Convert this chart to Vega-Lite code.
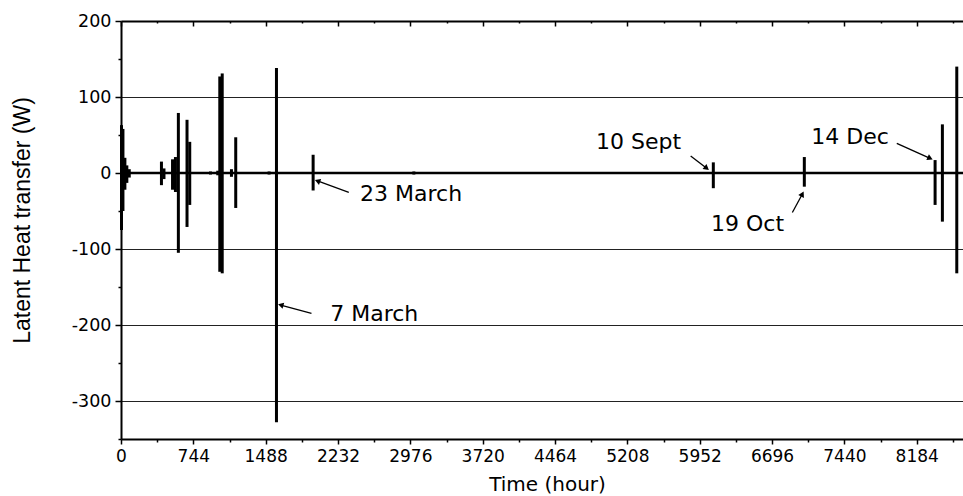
{
  "$schema": "https://vega.github.io/schema/vega-lite/v6.json",
  "width": 842,
  "height": 418,
  "autosize": "none",
  "padding": {"left": 121, "top": 21, "right": 0, "bottom": 57},
  "background": "white",
  "config": {
    "view": {"stroke": null},
    "axis": {"labelFont": "DejaVu Sans", "labelColor": "black", "titleColor": "black", "domainColor": "black", "tickColor": "black", "titleFontWeight": "normal"}
  },
  "datasets": {
    "spikes": [
      {"t": 5, "lo": -75, "hi": 63},
      {"t": 20, "lo": -50, "hi": 58},
      {"t": 40, "lo": -22, "hi": 20},
      {"t": 60, "lo": -13, "hi": 10},
      {"t": 85, "lo": -6, "hi": 5},
      {"t": 416, "lo": -16, "hi": 15},
      {"t": 442, "lo": -8, "hi": 6},
      {"t": 530, "lo": -22, "hi": 18},
      {"t": 560, "lo": -25, "hi": 21},
      {"t": 590, "lo": -105, "hi": 79},
      {"t": 679, "lo": -71, "hi": 70},
      {"t": 707, "lo": -42, "hi": 41},
      {"t": 920, "lo": -2, "hi": 2},
      {"t": 995, "lo": -3, "hi": 3},
      {"t": 1016, "lo": -130, "hi": 127},
      {"t": 1041, "lo": -132, "hi": 131},
      {"t": 1136, "lo": -5, "hi": 5},
      {"t": 1180, "lo": -46, "hi": 47},
      {"t": 1523, "lo": -2, "hi": 2},
      {"t": 1599, "lo": -328, "hi": 138},
      {"t": 1976, "lo": -23, "hi": 24},
      {"t": 3012, "lo": -2, "hi": 2},
      {"t": 6092, "lo": -20, "hi": 14},
      {"t": 7028, "lo": -18, "hi": 21},
      {"t": 8150, "lo": -1, "hi": 1},
      {"t": 8373, "lo": -42, "hi": 17},
      {"t": 8448, "lo": -64, "hi": 64},
      {"t": 8596, "lo": -132, "hi": 140}
    ],
    "notes": [
      {"label": "7 March", "t": 2605, "v": -185},
      {"label": "23 March", "t": 2984, "v": -28},
      {"label": "10 Sept", "t": 5323, "v": 41},
      {"label": "19 Oct", "t": 6444, "v": -67},
      {"label": "14 Dec", "t": 7498, "v": 48}
    ],
    "arrows": [
      {"label": "7 March", "t": 1959, "v": -184.6, "t2": 1643, "v2": -173.7},
      {"label": "23 March", "t": 2343, "v": -25.4, "t2": 2021, "v2": -10.5},
      {"label": "10 Sept", "t": 5859, "v": 22.4, "t2": 6024, "v2": 6.2},
      {"label": "19 Oct", "t": 6905, "v": -52, "t2": 7008, "v2": -27.6},
      {"label": "14 Dec", "t": 7979, "v": 39, "t2": 8322, "v2": 19.3}
    ]
  },
  "resolve": {"axis": {"x": "independent", "y": "independent"}},
  "layer": [
    {
      "data": {"values": [{"v": 0}]},
      "mark": {"type": "rule", "color": "black", "strokeWidth": 2.5},
      "encoding": {
        "y": {
          "field": "v", "type": "quantitative",
          "scale": {"domain": [-350, 200], "nice": false},
          "axis": {
            "orient": "left",
            "values": [-350, -300, -250, -200, -150, -100, -50, 0, 50, 100, 150, 200],
            "labelExpr": "datum.value % 100 === 0 ? '' + datum.value : ''",
            "tickSize": {"condition": {"test": "datum.value % 100 === 0", "value": 6}, "value": 3},
            "tickWidth": 1.5,
            "domainWidth": 2,
            "labelFontSize": 17.5,
            "labelPadding": 4,
            "labelFlush": false,
            "labelOverlap": false,
            "grid": true,
            "gridWidth": 1,
            "gridColor": "#222222",
            "gridOpacity": {"condition": {"test": "datum.value % 100 === 0 && datum.value < 200", "value": 1}, "value": 0},
            "title": "Latent Heat transfer (W)",
            "titleFont": "Liberation Sans",
            "titleFontSize": 23,
            "titleAngle": -90,
            "titleX": -99,
            "titleY": 199,
            "titleAlign": "center",
            "titleBaseline": "middle"
          }
        }
      }
    },
    {
      "data": {"name": "spikes"},
      "mark": {"type": "rule", "color": "black", "strokeWidth": 3},
      "encoding": {
        "x": {
          "field": "t", "type": "quantitative",
          "scale": {"domain": [0, 8660], "nice": false, "zero": false},
          "axis": {
            "orient": "bottom",
            "values": [0, 372, 744, 1116, 1488, 1860, 2232, 2604, 2976, 3348, 3720, 4092, 4464, 4836, 5208, 5580, 5952, 6324, 6696, 7068, 7440, 7812, 8184, 8556],
            "format": "d",
            "labelExpr": "datum.value % 744 === 0 ? datum.label : ''",
            "tickSize": {"condition": {"test": "datum.value % 744 === 0", "value": 5}, "value": 3},
            "tickWidth": 1.5,
            "domainWidth": 2,
            "labelFontSize": 17,
            "labelPadding": 4,
            "labelFlush": false,
            "labelOverlap": false,
            "grid": false,
            "title": "Time (hour)",
            "titleFont": "DejaVu Sans",
            "titleFontSize": 20,
            "titleX": 426,
            "titleY": 45,
            "titleAlign": "center",
            "titleBaseline": "middle"
          }
        },
        "y": {"field": "lo", "type": "quantitative", "axis": null},
        "y2": {"field": "hi"}
      }
    },
    {
      "data": {"name": "arrows"},
      "mark": {"type": "rule", "color": "black", "strokeWidth": 1.3},
      "encoding": {
        "x": {"field": "t", "type": "quantitative", "axis": null},
        "y": {"field": "v", "type": "quantitative", "axis": null},
        "x2": {"field": "t2"},
        "y2": {"field": "v2"}
      }
    },
    {
      "data": {"name": "arrows"},
      "transform": [{"filter": "datum.label === '7 March'"}],
      "mark": {"type": "point", "shape": "triangle-up", "filled": true, "color": "black", "opacity": 1, "size": 40, "angle": 285},
      "encoding": {"x": {"field": "t2", "type": "quantitative", "axis": null}, "y": {"field": "v2", "type": "quantitative", "axis": null}}
    },
    {
      "data": {"name": "arrows"},
      "transform": [{"filter": "datum.label === '23 March'"}],
      "mark": {"type": "point", "shape": "triangle-up", "filled": true, "color": "black", "opacity": 1, "size": 40, "angle": 290},
      "encoding": {"x": {"field": "t2", "type": "quantitative", "axis": null}, "y": {"field": "v2", "type": "quantitative", "axis": null}}
    },
    {
      "data": {"name": "arrows"},
      "transform": [{"filter": "datum.label === '10 Sept'"}],
      "mark": {"type": "point", "shape": "triangle-up", "filled": true, "color": "black", "opacity": 1, "size": 40, "angle": 128},
      "encoding": {"x": {"field": "t2", "type": "quantitative", "axis": null}, "y": {"field": "v2", "type": "quantitative", "axis": null}}
    },
    {
      "data": {"name": "arrows"},
      "transform": [{"filter": "datum.label === '19 Oct'"}],
      "mark": {"type": "point", "shape": "triangle-up", "filled": true, "color": "black", "opacity": 1, "size": 40, "angle": 28},
      "encoding": {"x": {"field": "t2", "type": "quantitative", "axis": null}, "y": {"field": "v2", "type": "quantitative", "axis": null}}
    },
    {
      "data": {"name": "arrows"},
      "transform": [{"filter": "datum.label === '14 Dec'"}],
      "mark": {"type": "point", "shape": "triangle-up", "filled": true, "color": "black", "opacity": 1, "size": 40, "angle": 114},
      "encoding": {"x": {"field": "t2", "type": "quantitative", "axis": null}, "y": {"field": "v2", "type": "quantitative", "axis": null}}
    },
    {
      "data": {"name": "notes"},
      "mark": {"type": "text", "font": "DejaVu Sans", "fontSize": 22, "align": "center", "baseline": "middle", "color": "black"},
      "encoding": {
        "x": {
          "field": "t", "type": "quantitative",
          "axis": {
            "orient": "top",
            "values": [0, 372, 744, 1116, 1488, 1860, 2232, 2604, 2976, 3348, 3720, 4092, 4464, 4836, 5208, 5580, 5952, 6324, 6696, 7068, 7440, 7812, 8184, 8556],
            "labels": false,
            "title": null,
            "grid": false,
            "tickSize": {"condition": {"test": "datum.value % 744 === 0", "value": -5}, "value": -2},
            "tickWidth": 1.5,
            "domainWidth": 2
          }
        },
        "y": {"field": "v", "type": "quantitative", "axis": null},
        "text": {"field": "label"}
      }
    }
  ]
}
